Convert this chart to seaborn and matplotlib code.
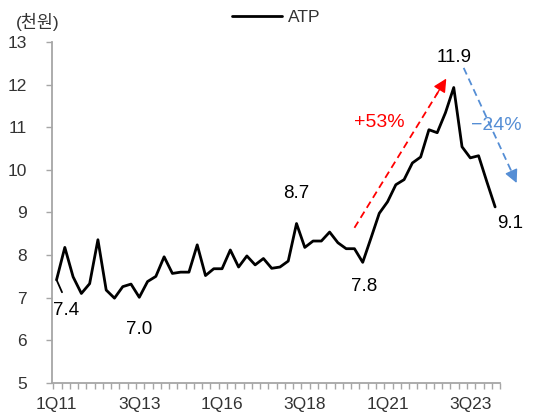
import numpy as np
import pandas as pd
import matplotlib
matplotlib.use('Agg')
import matplotlib.pyplot as plt
import seaborn as sns

# quarterly ATP (thousand won), 1Q11 ~ 2Q24
years = list(range(11, 25))
quarters = [f'{q}Q{y}' for y in years for q in range(1, 5)][:54]
atp = [7.42, 8.18, 7.49, 7.10, 7.33, 8.36, 7.18, 6.99, 7.26, 7.32,
       7.01, 7.38, 7.50, 7.96, 7.57, 7.60, 7.60, 8.24, 7.52, 7.68,
       7.68, 8.12, 7.72, 7.98, 7.77, 7.92, 7.69, 7.72, 7.86, 8.74,
       8.18, 8.33, 8.33, 8.54, 8.29, 8.15, 8.15, 7.83, 8.40, 8.98,
       9.25, 9.65, 9.77, 10.16, 10.30, 10.94, 10.87, 11.34, 11.93, 10.54,
       10.28, 10.33, 9.72, 9.13]
tick_labels = ['1Q11', '3Q13', '1Q16', '3Q18', '1Q21', '3Q23']

# labelled points: quarter -> offset of label (points)
point_labels = {'1Q11': (7, -22), '3Q13': (0, -23.5), '2Q18': (0, 21.5),
                '2Q20': (1, -17.5), '1Q23': (0, 21.5), '2Q24': (11, -12)}

df = pd.DataFrame({'idx': np.arange(len(atp)), 'quarter': quarters, 'ATP': atp})

sns.set_style('white')
plt.rcParams['font.family'] = ['Liberation Sans', 'Noto Sans CJK KR']

fig = plt.figure(figsize=(5.36, 4.16), dpi=100)
ax = fig.add_axes([0.097, 0.0793, 0.836, 0.82])

sns.lineplot(data=df, x='idx', y='ATP', color='black', linewidth=2.0, ax=ax, label='ATP')

ax.set_ylim(5, 13)
ax.set_yticks(range(5, 14))
ax.set_xlim(-0.55, 53.5)
ax.set_xticks([quarters.index(t) for t in tick_labels])
ax.set_xticklabels(tick_labels)
ax.set_xticks(np.arange(len(atp) + 1) - 0.4, minor=True)
ax.set_xlabel('')
ax.set_ylabel('')

for s in ['top', 'right']:
    ax.spines[s].set_visible(False)
for s in ['left', 'bottom']:
    ax.spines[s].set_color('#a6a6a6')
    ax.spines[s].set_linewidth(1.3)
ax.tick_params(axis='y', which='major', length=4, width=1.0, color='#a6a6a6',
               labelsize=12.5, labelcolor='#333333', pad=14, left=True)
ax.tick_params(axis='x', which='major', length=0, labelsize=12.5,
               labelcolor='#333333', pad=10)
ax.tick_params(axis='x', which='minor', length=4, width=1.0, color='#a6a6a6', bottom=True)
ax.grid(False)

# data labels
for q, (dx, dy) in point_labels.items():
    i = quarters.index(q)
    v = atp[i]
    if q == '1Q11':
        ax.annotate(f'{v:.1f}', xy=(i, v), xytext=(dx, dy), textcoords='offset points',
                    ha='center', va='center', fontsize=13.5, color='black',
                    arrowprops=dict(arrowstyle='-', color='black', lw=1.3,
                                    relpos=(0.5, 1.0), shrinkA=5, shrinkB=0))
    else:
        ax.annotate(f'{v:.1f}', xy=(i, v), xytext=(dx, dy), textcoords='offset points',
                    ha='center', va='center', fontsize=13.5, color='black')

# growth arrows
red_start, red_end = (36.0, 8.64), (47.1, 12.14)
ax.plot([red_start[0], red_end[0] - 1.0], [red_start[1], red_end[1] - 0.32],
        color='red', lw=1.3, ls=(0, (4, 2.5)), clip_on=False)
ax.annotate('', xy=red_end, xytext=(red_end[0] - 1.2, red_end[1] - 0.38),
            arrowprops=dict(arrowstyle='-|>', color='red', lw=1.0, mutation_scale=20,
                            shrinkA=0, shrinkB=0), annotation_clip=False)
ax.text(39.0, 11.10, '+53%', color='red', fontsize=14, ha='center', va='center')

blue = '#558ed5'
blue_start, blue_end = (49.2, 12.39), (55.6, 9.69)
ax.plot([blue_start[0], blue_end[0] - 0.55], [blue_start[1], blue_end[1] + 0.24],
        color=blue, lw=1.3, ls=(0, (4, 2.5)), clip_on=False)
ax.annotate('', xy=blue_end, xytext=(blue_end[0] - 0.65, blue_end[1] + 0.28),
            arrowprops=dict(arrowstyle='-|>', color=blue, lw=1.0, mutation_scale=20,
                            shrinkA=0, shrinkB=0), annotation_clip=False)
ax.text(53.1, 11.03, '\u221224%', color=blue, fontsize=14, ha='center', va='center')

# unit and legend
fig.text(0.071, 0.947, '(천원)', fontsize=12.5, color='#333333', ha='center', va='center')
ax.legend(loc='center', bbox_to_anchor=(0.515, 0.959), bbox_transform=fig.transFigure,
          frameon=False, fontsize=12.5, handlelength=2.9, handletextpad=0.3,
          borderpad=0, labelcolor='#333333')

fig.savefig('out.png', dpi=100)
